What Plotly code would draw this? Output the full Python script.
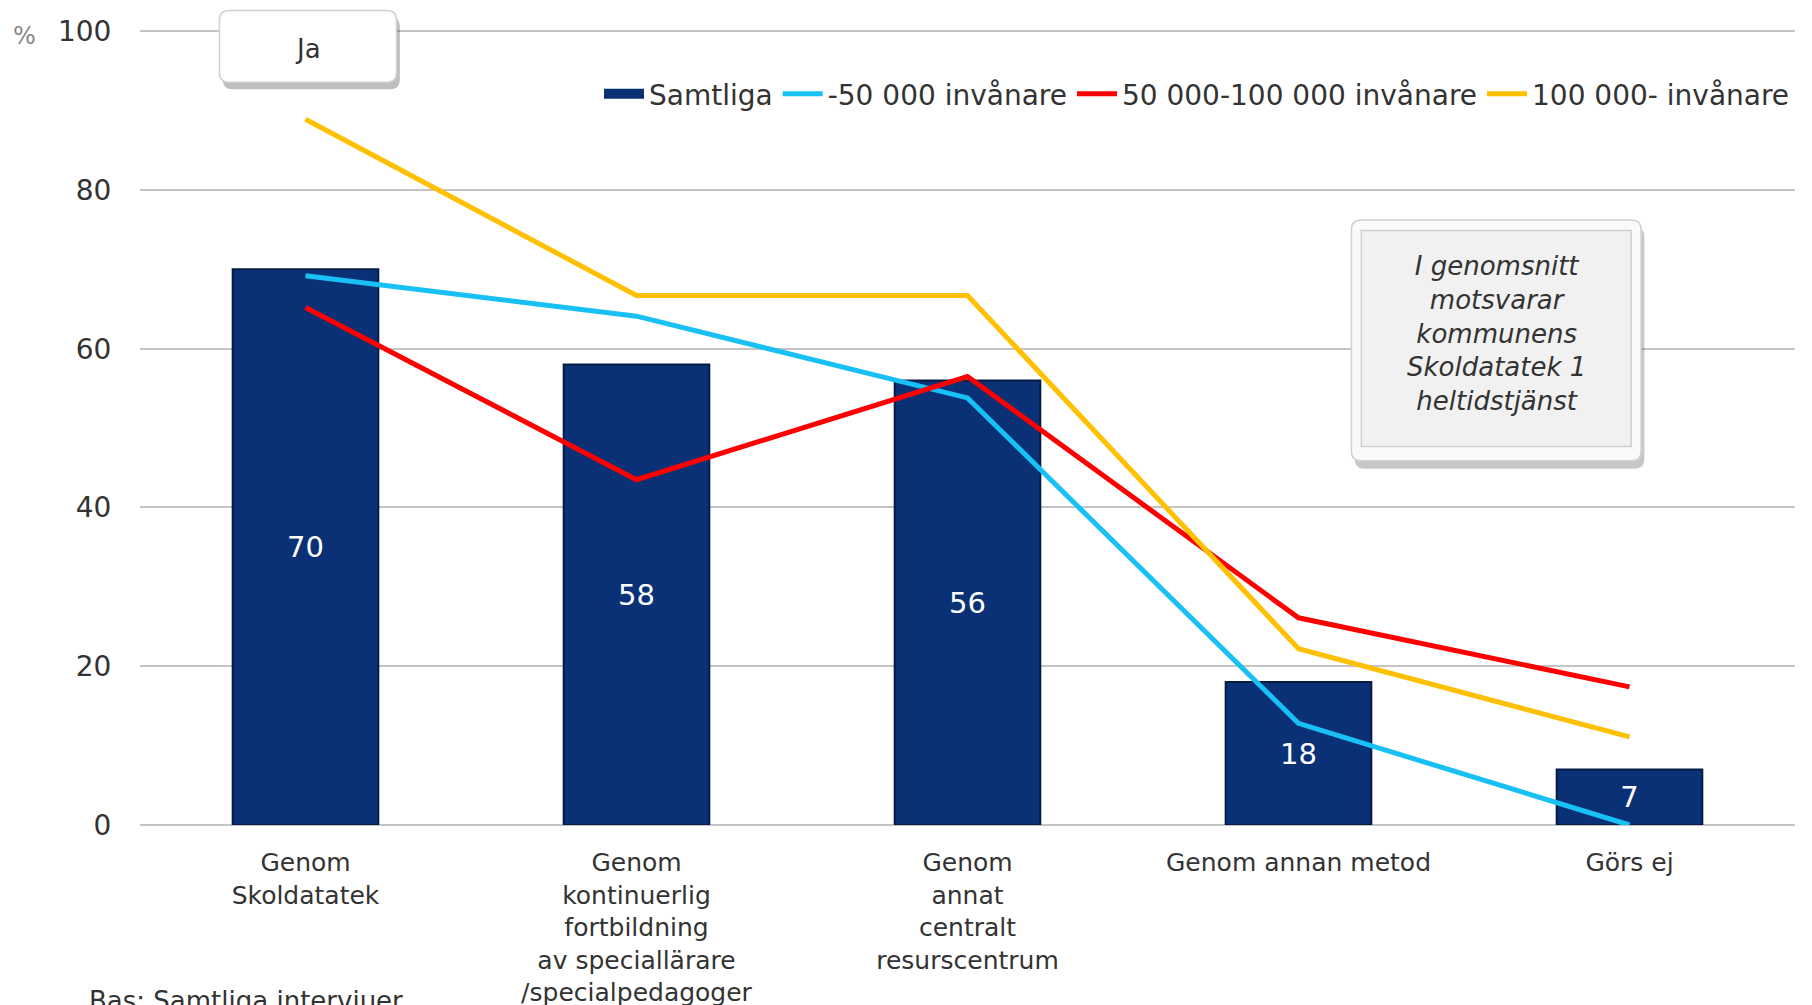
import plotly.graph_objects as go

categories = [
    "Genom<br>Skoldatatek",
    "Genom<br>kontinuerlig<br>fortbildning<br>av speciallärare<br>/specialpedagoger",
    "Genom<br>annat<br>centralt<br>resurscentrum",
    "Genom annan metod",
    "Görs ej",
]
samtliga = [70, 58, 56, 18, 7]
small = [69.2, 64.1, 53.8, 12.8, 0.0]
medium = [65.2, 43.5, 56.5, 26.1, 17.4]
large = [88.9, 66.7, 66.7, 22.2, 11.1]
tick_vals = [0, 20, 40, 60, 80, 100]

FONT = "DejaVu Sans"
TXT = "#333333"
NAVY = "#0A3176"

fig = go.Figure()
# legend swatch for the bars (wide navy rectangle like the original)
fig.add_trace(go.Scatter(x=[categories[0]], y=[None], name="Samtliga", mode="lines",
                         line=dict(color=NAVY, width=14), hoverinfo="skip"))
fig.add_trace(go.Bar(
    x=categories, y=samtliga, name="Samtliga", showlegend=False,
    marker=dict(color=NAVY, line=dict(color="#071c44", width=2)),
    text=[str(v) for v in samtliga], textposition="inside",
    insidetextanchor="middle",
    textfont=dict(color="white", size=29, family=FONT),
))
fig.add_trace(go.Scatter(x=categories, y=small, name="-50 000 invånare",
                         mode="lines", line=dict(color="#19C0F5", width=5)))
fig.add_trace(go.Scatter(x=categories, y=medium, name="50 000-100 000 invånare",
                         mode="lines", line=dict(color="#FF0000", width=5)))
fig.add_trace(go.Scatter(x=categories, y=large, name="100 000- invånare",
                         mode="lines", line=dict(color="#FFC000", width=5)))


def rrect(x0, y0, x1, y1, r=0.006, ry=0.012):
    return (f"M {x0+r},{y0} L {x1-r},{y0} Q {x1},{y0} {x1},{y0+ry} "
            f"L {x1},{y1-ry} Q {x1},{y1} {x1-r},{y1} L {x0+r},{y1} "
            f"Q {x0},{y1} {x0},{y1-ry} L {x0},{y0+ry} Q {x0},{y0} {x0+r},{y0} Z")


shapes = []
# Ja box
shapes.append(dict(type="path", xref="paper", yref="paper",
                   path=rrect(0.050, 0.923, 0.157, 1.014),
                   fillcolor="rgba(0,0,0,0.25)", line=dict(width=0), layer="above"))
shapes.append(dict(type="path", xref="paper", yref="paper",
                   path=rrect(0.048, 0.932, 0.155, 1.022),
                   fillcolor="#ffffff", line=dict(color="#d0d0d0", width=1.5), layer="above"))
# note box
shapes.append(dict(type="path", xref="paper", yref="paper",
                   path=rrect(0.734, 0.447, 0.909, 0.750),
                   fillcolor="rgba(0,0,0,0.22)", line=dict(width=0), layer="above"))
shapes.append(dict(type="path", xref="paper", yref="paper",
                   path=rrect(0.732, 0.457, 0.907, 0.759),
                   fillcolor="#fafafa", line=dict(color="#d0d0d0", width=1.5), layer="above"))
shapes.append(dict(type="rect", xref="paper", yref="paper",
                   x0=0.738, x1=0.901, y0=0.475, y1=0.746,
                   fillcolor="#f1f1f1", line=dict(color="#cfcfcf", width=1.5), layer="above"))

annotations = [
    dict(text="Ja", xref="paper", yref="paper", x=0.1015, y=0.974,
         xanchor="center", yanchor="middle", showarrow=False,
         font=dict(size=26, family=FONT, color=TXT)),
    dict(text="<i>I genomsnitt<br>motsvarar<br>kommunens<br>Skoldatatek 1<br>heltidstjänst</i>",
         xref="paper", yref="paper", x=0.8195, y=0.617,
         xanchor="center", yanchor="middle", showarrow=False,
         font=dict(size=26, family=FONT, color=TXT)),
    dict(text="%", xref="paper", yref="paper", x=-0.0695, y=0.99,
         xanchor="center", yanchor="middle", showarrow=False,
         font=dict(size=24, family=FONT, color="#888888")),
    dict(text="Bas: Samtliga intervjuer", xref="paper", yref="paper",
         x=-0.032, y=-0.2, xanchor="left", yanchor="top", showarrow=False,
         font=dict(size=26, family=FONT, color=TXT)),
]

fig.update_layout(
    width=1812, height=1005,
    margin=dict(l=132, r=25, t=20, b=188, autoexpand=False),
    paper_bgcolor="white", plot_bgcolor="white",
    bargap=0.56,
    font=dict(family=FONT, color=TXT),
    showlegend=True,
    legend=dict(orientation="h", x=1.0, xanchor="right", y=0.917, yanchor="middle",
                font=dict(size=28, family=FONT, color=TXT), bgcolor="rgba(0,0,0,0)",
                itemwidth=40, tracegroupgap=0),
    xaxis=dict(type="category", showgrid=False, showline=False, automargin=False,
               tickfont=dict(size=25, family=FONT, color=TXT),
               ticks="outside", ticklen=15, tickcolor="rgba(0,0,0,0)", range=[-0.5, 4.5]),
    yaxis=dict(range=[0, 100.4], tickvals=tick_vals, showgrid=True, gridcolor="#c4c4c4",
               gridwidth=2, zeroline=True, zerolinecolor="#c4c4c4", zerolinewidth=2,
               automargin=False,
               tickfont=dict(size=28, family=FONT, color=TXT),
               ticks="outside", ticklen=22, tickcolor="rgba(0,0,0,0)"),
    shapes=shapes, annotations=annotations,
)

fig.write_html("out.html")
